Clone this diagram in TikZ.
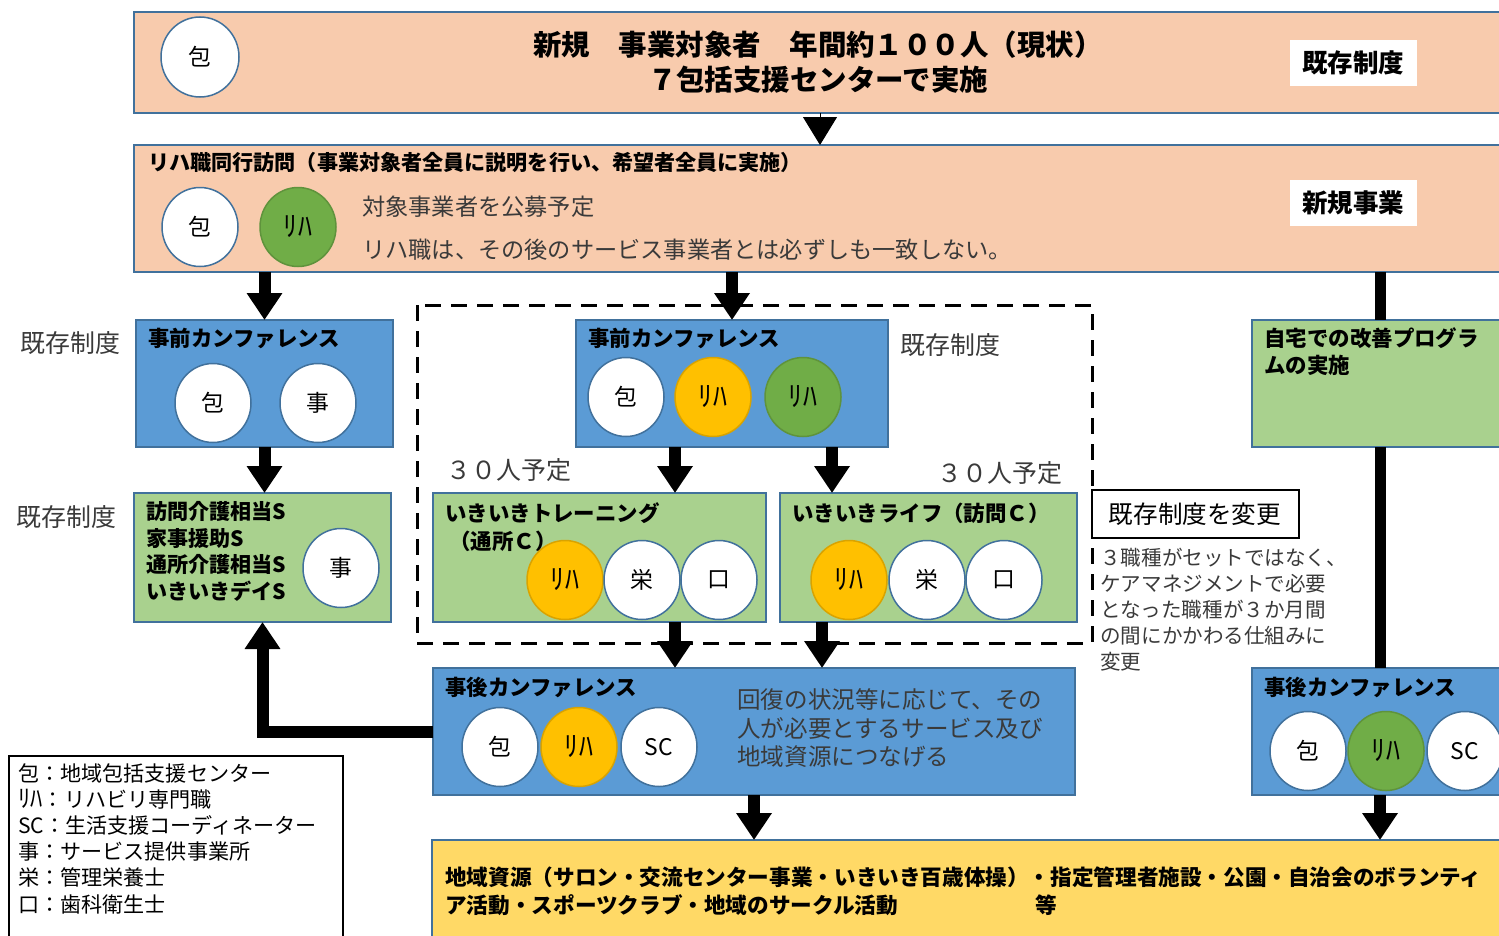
\documentclass[tikz,border=0pt]{standalone}
\usepackage{fontspec}
\setmainfont{Noto Sans CJK JP}
\usetikzlibrary{shapes.geometric,arrows.meta}
\definecolor{peach}{HTML}{F8CBAD}
\definecolor{bblue}{HTML}{5B9BD5}
\definecolor{lgreen}{HTML}{A9D18E}
\definecolor{dgreen}{HTML}{70AD47}
\definecolor{orng}{HTML}{FFC000}
\definecolor{ylw}{HTML}{FFD966}
\definecolor{edge}{HTML}{41719C}
\definecolor{txtg}{HTML}{3A3A3A}
\newcommand\fs[2]{\fontsize{#1}{#2}\selectfont}
\newcommand\bxn[6]{\node[#6,anchor=north west,minimum width={(#4-#2)*0.2mm},minimum height={(#5-#3)*0.2mm}] (#1) at (#2,#3) {};}
\tikzset{
 rbox/.style={draw=edge,line width=0.4mm,inner sep=0,outer sep=0},
 circ/.style={ellipse,draw=edge,line width=0.3mm,minimum width=15.2mm,minimum height=15.8mm,inner sep=0,font=\fs{13}{13}},
 wc/.style={circ,fill=white},
 oc/.style={circ,fill=orng,draw=orng!85!black,font=\fs{16}{16}},
 gc/.style={circ,fill=dgreen,draw=dgreen!85!black,font=\fs{16}{16}},
 btitle/.style={anchor=west,inner sep=0,font=\bfseries\fs{12.2}{15}},
 lab/.style={fill=white,minimum width=25.4mm,minimum height=9.2mm,inner sep=0,font=\bfseries\fs{14.5}{16}},
 side/.style={anchor=west,inner sep=0,text=txtg,font=\fs{14.2}{16}},
 blk/.style={line width=2.4mm,-{Triangle[width=6.8mm,length=5.4mm]}},
 tri/.style={line width=0.2mm,-{Triangle[width=6.8mm,length=5.6mm]}},
 bar/.style={line width=2.2mm},
}
\begin{document}
\begin{tikzpicture}[x=0.2mm,y=-0.2mm]
\useasboundingbox (0,0) rectangle (1499,935);
% top box
\bxn{top}{134}{12}{1500}{113}{rbox,fill=peach}
\node[wc,minimum width=15.6mm,minimum height=16mm] (t1) at (200,57) {包};
\node[font=\bfseries\fs{16.2}{19.8},align=center,inner sep=0] (ttl) at (818,62) {新規　事業対象者　年間約１００人（現状）\\７包括支援センターで実施};
\node[lab] (lb1) at (1353,63) {既存制度};
% second box
\bxn{p2}{134}{145}{1500}{272}{rbox,fill=peach}
\node[btitle,font=\bfseries\fs{12}{15}] (p2t) at (148,162) {リハ職同行訪問（事業対象者全員に説明を行い、希望者全員に実施）};
\node[wc] (p2a) at (200,227) {包};
\node[gc] (p2b) at (298,227) {ﾘﾊ};
\node[anchor=west,inner sep=0,text=txtg,font=\fs{13.2}{16}] (p2x) at (362,207) {対象事業者を公募予定};
\node[anchor=west,inner sep=0,text=txtg,font=\fs{13.2}{16}] (p2y) at (362,250) {リハ職は、その後のサービス事業者とは必ずしも一致しない。};
\node[lab] (lb2) at (1353,203) {新規事業};
% left column
\node[side] (s1) at (20,343) {既存制度};
\bxn{pre1}{136}{320}{393}{447}{rbox,fill=bblue}
\node[btitle] (pre1t) at (148,338) {事前カンファレンス};
\node[wc] (pre1a) at (213,403) {包};
\node[wc] (pre1b) at (318,403) {事};
\node[side] (s2) at (16,517) {既存制度};
\bxn{svc1}{134}{493}{391}{622}{rbox,fill=lgreen}
\node[anchor=north west,inner sep=0,align=left,font=\bfseries\fs{12}{15.1}] (svc1t) at (146,501) {訪問介護相当S\\家事援助S\\通所介護相当S\\いきいきデイS};
\node[wc] (svc1a) at (341,568) {事};
% dashed frame
\draw[line width=0.6mm,dash pattern=on 3.2mm off 2mm] (417,305) rectangle (1092,643);
% middle
\bxn{pre2}{576}{320}{888}{447}{rbox,fill=bblue}
\node[btitle] (pre2t) at (588,338) {事前カンファレンス};
\node[wc] (pre2a) at (626,397) {包};
\node[oc] (pre2b) at (713,397) {ﾘﾊ};
\node[gc] (pre2c) at (803,397) {ﾘﾊ};
\node[side] (s3) at (900,345) {既存制度};
\node[side] (n30a) at (446,470) {３０人予定};
\node[side] (n30b) at (937,473) {３０人予定};
\bxn{trn}{433}{493}{766}{622}{rbox,fill=lgreen}
\node[btitle] (trnt) at (445,513) {いきいきトレーニング};
\node[btitle] (trnt2) at (449,541) {（通所Ｃ）};
\node[oc] (trna) at (565,580) {ﾘﾊ};
\node[wc] (trnb) at (642,580) {栄};
\node[wc] (trnc) at (719,580) {口};
\bxn{life}{780}{493}{1077}{622}{rbox,fill=lgreen}
\node[btitle] (lifet) at (792,513) {いきいきライフ（訪問Ｃ）};
\node[oc] (lifea) at (849,580) {ﾘﾊ};
\node[wc] (lifeb) at (927,580) {栄};
\node[wc] (lifec) at (1004,580) {口};
% change note
\node[draw=black,line width=0.4mm,fill=white,minimum width=41.4mm,minimum height=9.6mm,inner sep=0,font=\fs{14}{16}] (chg) at (1195,514) {既存制度を変更};
\node[anchor=north west,inner sep=0,align=left,text=txtg,font=\fs{11.7}{14.7}] (note) at (1100,548) {３職種がセットではなく、\\ケアマネジメントで必要\\となった職種が３か月間\\の間にかかわる仕組みに\\変更};
% right column
\bxn{home}{1252}{320}{1500}{447}{rbox,fill=lgreen}
\node[anchor=north west,inner sep=0,align=left,font=\bfseries\fs{12.2}{15.3}] (homet) at (1264,327) {自宅での改善プログラ\\ムの実施};
\bxn{post2}{1252}{668}{1500}{795}{rbox,fill=bblue}
\node[btitle] (post2t) at (1264,687) {事後カンファレンス};
\node[wc] (post2a) at (1308,751) {包};
\node[gc] (post2b) at (1386,751) {ﾘﾊ};
\node[wc] (post2c) at (1465,751) {SC};
% post conference
\bxn{post}{433}{668}{1075}{795}{rbox,fill=bblue}
\node[btitle] (postt) at (445,687) {事後カンファレンス};
\node[wc] (posta) at (500,747) {包};
\node[oc] (postb) at (579,747) {ﾘﾊ};
\node[wc] (postc) at (659,747) {SC};
\node[anchor=north west,inner sep=0,align=left,text=txtg,font=\fs{13.4}{16.4}] (postx) at (737,688) {回復の状況等に応じて、その\\人が必要とするサービス及び\\地域資源につなげる};
% resources
\bxn{res}{432}{840}{1500}{940}{rbox,fill=ylw}
\node[anchor=north west,inner sep=0,align=left,font=\bfseries\fs{12.3}{15.9}] (rest) at (445,866) {地域資源（サロン・交流センター事業・いきいき百歳体操）・指定管理者施設・公園・自治会のボランティ\\\makebox[118mm][l]{ア活動・スポーツクラブ・地域のサークル活動}等};
% legend
\bxn{leg}{8}{755}{342}{940}{draw=black,line width=0.4mm,fill=white}
\node[anchor=north west,inner sep=0,align=left,font=\fs{12}{14.9}] (legt) at (18,763) {包：地域包括支援センター\\{\fs{14}{14.9}ﾘﾊ}：リハビリ専門職\\SC：生活支援コーディネーター\\事：サービス提供事業所\\栄：管理栄養士\\口：歯科衛生士};
% connectors
\coordinate (x820) at (820,0);
\coordinate (x1380) at (1380,0);
\coordinate (x675) at (675,0);
\coordinate (x832) at (832,0);
\coordinate (x822) at (822,0);
\draw[tri] (top.south -| x820) -- (p2.north -| x820);
\draw[blk] (p2.south -| pre1) -- (pre1.north);
\draw[blk] (p2.south -| pre2) -- (pre2.north);
\draw[bar] (p2.south -| x1380) -- (home.north -| x1380);
\draw[bar] (home.south -| x1380) -- (post2.north -| x1380);
\draw[blk] (post2.south -| x1380) -- (res.north -| x1380);
\draw[blk] (pre1.south) -- (pre1.south |- svc1.north);
\draw[blk] (pre2.south -| x675) -- (trn.north -| x675);
\draw[blk] (pre2.south -| x832) -- (life.north -| x832);
\draw[blk] (trn.south -| x675) -- (post.north -| x675);
\draw[blk] (life.south -| x822) -- (post.north -| x822);
\draw[blk] (post.south) -- (post.south |- res.north);
\draw[blk] (post.west) -| (svc1.south);
\end{tikzpicture}
\end{document}
